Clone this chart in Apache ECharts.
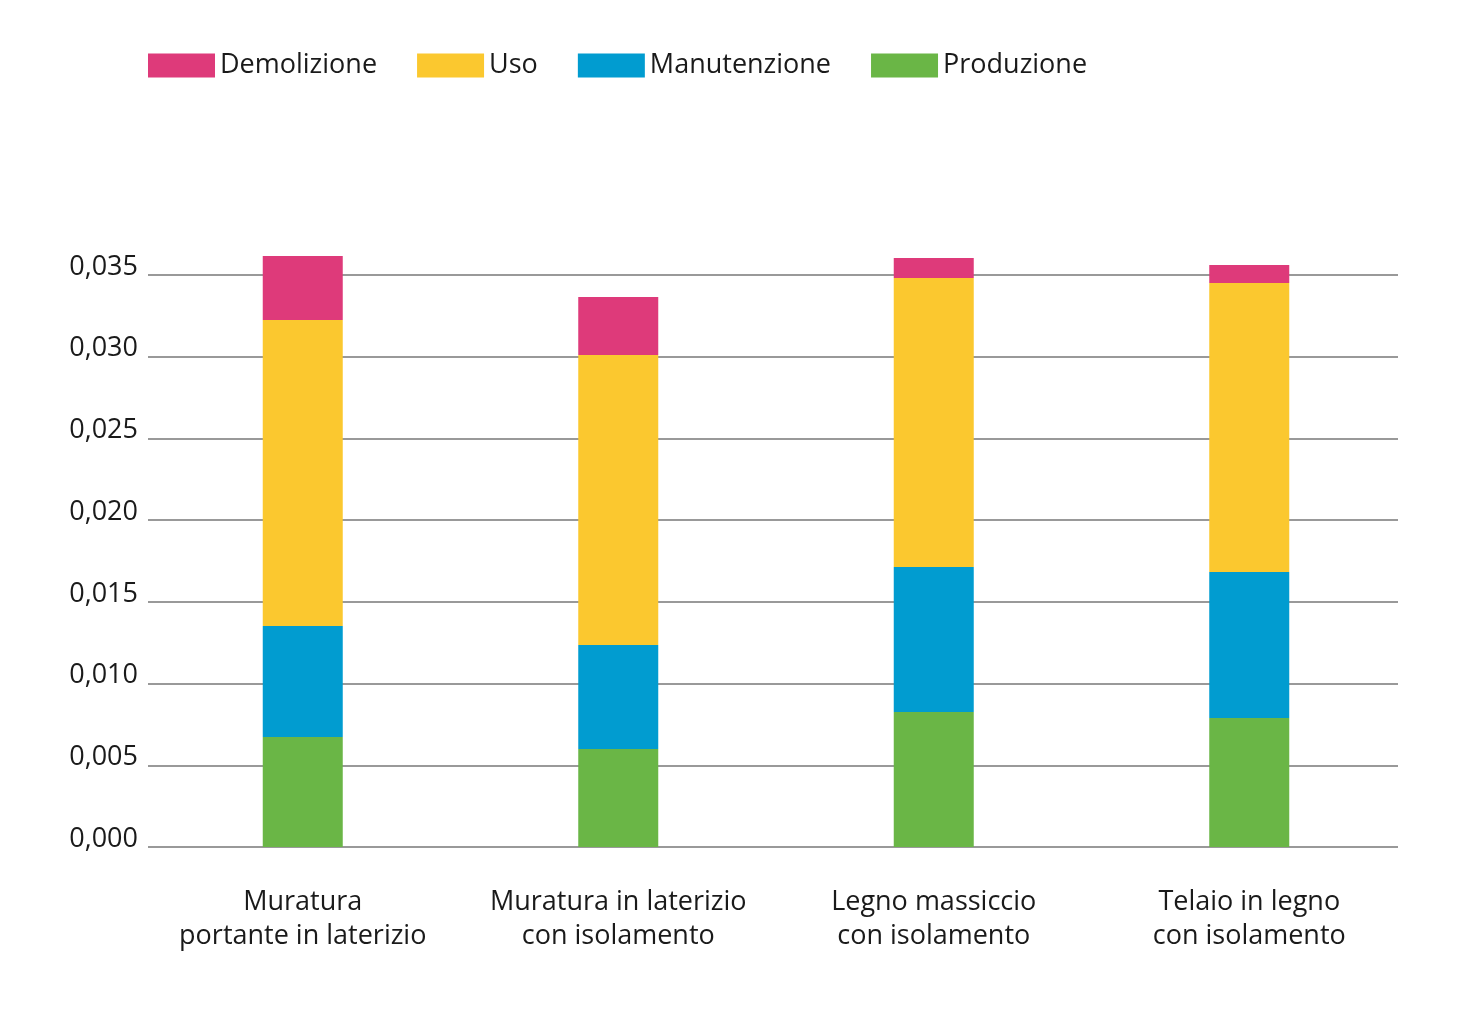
<!DOCTYPE html>
<html><head><meta charset="utf-8">
<script src="https://cdn.jsdelivr.net/npm/echarts@6/dist/echarts.min.js"></script>
<style>html,body{margin:0;padding:0;background:#fff}#c{width:1474px;height:1032px}</style>
</head><body><div id="c"></div>
<script>
const categories = ["Muratura\nportante in laterizio", "Muratura in laterizio\ncon isolamento", "Legno massiccio\ncon isolamento", "Telaio in legno\ncon isolamento"];
const produzione = [0.00673, 0.00600, 0.00826, 0.00789];
const manutenzione = [0.00679, 0.00636, 0.00887, 0.00894];
const uso = [0.01873, 0.01775, 0.01769, 0.01768];
const demolizione = [0.00392, 0.00355, 0.00122, 0.00110];
const legendOrder = ["Demolizione", "Uso", "Manutenzione", "Produzione"];

const chart = echarts.init(document.getElementById('c'));
const font = "'Open Sans', 'Noto Sans', sans-serif";
function s(name, data, color) {
  return { name, type: 'bar', stack: 'tot', data, barWidth: 80, clip: false,
    xAxisIndex: 1, yAxisIndex: 1, itemStyle: { color }, emphasis: { disabled: true } };
}
chart.setOption({
  animation: false,
  textStyle: { fontFamily: font },
  legend: {
    data: legendOrder, left: 143, top: 47, itemWidth: 67, itemHeight: 24, itemGap: 40,
    icon: 'rect', textStyle: { fontSize: 27, color: '#1a1a1a', fontFamily: font }
  },
  grid: [
    { left: 148, right: 76, top: 275, bottom: 185 },
    { left: 145, right: 67, top: 275, bottom: 185 }
  ],
  xAxis: [
    { type: 'category', gridIndex: 0, data: categories, show: false },
    { type: 'category', gridIndex: 1, data: categories,
      axisLine: { show: false }, axisTick: { show: false },
      axisLabel: { fontSize: 27, color: '#1a1a1a', margin: 38, lineHeight: 34, interval: 0 } }
  ],
  yAxis: [
    { type: 'value', gridIndex: 0, min: 0, max: 0.035, interval: 0.005,
      axisLine: { show: false }, axisTick: { show: false },
      splitLine: { lineStyle: { color: '#999', width: 2 } },
      axisLabel: { fontSize: 27, color: '#1a1a1a', margin: 10, verticalAlign: 'bottom', lineHeight: 16,
        formatter: v => v.toFixed(3).replace('.', ',') } },
    { type: 'value', gridIndex: 1, min: 0, max: 0.035, interval: 0.005, show: false, splitLine: { show: false } }
  ],
  series: [
    s('Produzione', produzione, '#6AB646'),
    s('Manutenzione', manutenzione, '#019CD0'),
    s('Uso', uso, '#FBC82F'),
    s('Demolizione', demolizione, '#DE3A7A')
  ]
});
</script></body></html>
